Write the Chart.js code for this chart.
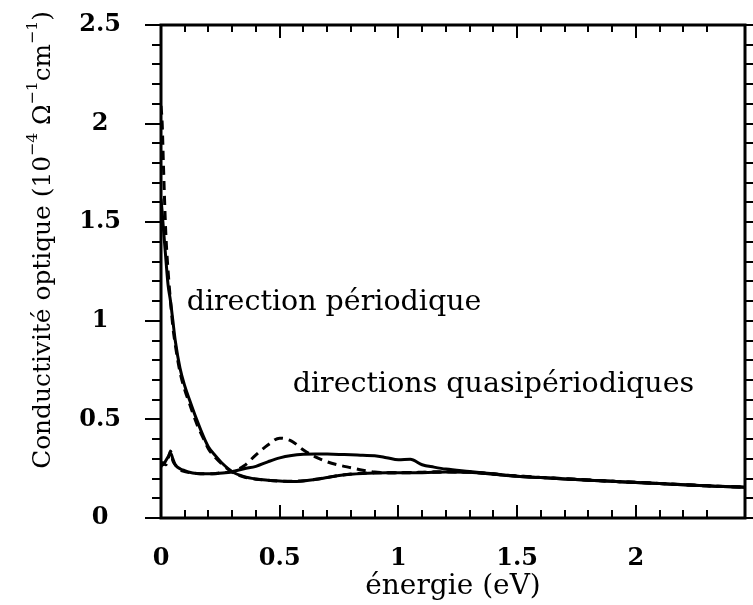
<!DOCTYPE html>
<html><head><meta charset="utf-8">
<script src="https://cdn.jsdelivr.net/npm/chart.js@4/dist/chart.umd.min.js"></script>
<style>html,body{margin:0;padding:0;background:#fff;}canvas{display:block;}</style>
</head><body>
<canvas id="c" width="753" height="605"></canvas>
<script>
const energy = [0, 0.005, 0.01, 0.02, 0.03, 0.04, 0.05, 0.06, 0.08, 0.1, 0.12, 0.15, 0.18, 0.2, 0.23, 0.26, 0.3, 0.35, 0.4, 0.45, 0.5, 0.55, 0.6, 0.65, 0.7, 0.75, 0.8, 0.85, 0.9, 0.95, 1.0, 1.05, 1.1, 1.15, 1.2, 1.3, 1.4, 1.5, 1.6, 1.7, 1.8, 1.9, 2.0, 2.1, 2.2, 2.3, 2.4, 2.46];
const periodicSolid = [1.62, 1.55, 1.47, 1.32, 1.18, 1.10, 1.00, 0.90, 0.76, 0.67, 0.60, 0.50, 0.41, 0.36, 0.315, 0.275, 0.235, 0.21, 0.198, 0.192, 0.188, 0.185, 0.188, 0.195, 0.205, 0.215, 0.222, 0.226, 0.228, 0.229, 0.229, 0.229, 0.23, 0.232, 0.233, 0.232, 0.222, 0.212, 0.205, 0.198, 0.192, 0.186, 0.18, 0.175, 0.168, 0.163, 0.158, 0.156];
const periodicDashed = [2.09, 2.0, 1.80, 1.45, 1.25, 1.10, 0.97, 0.88, 0.74, 0.65, 0.58, 0.48, 0.40, 0.35, 0.305, 0.27, 0.232, 0.208, 0.197, 0.191, 0.187, 0.186, 0.189, 0.196, 0.206, 0.216, 0.223, 0.227, 0.229, 0.23, 0.23, 0.231, 0.232, 0.233, 0.234, 0.232, 0.223, 0.213, 0.206, 0.199, 0.193, 0.186, 0.181, 0.175, 0.169, 0.163, 0.159, 0.157];
const quasiSolid = [0.27, 0.28, 0.27, 0.29, 0.31, 0.33, 0.30, 0.27, 0.25, 0.24, 0.232, 0.226, 0.224, 0.224, 0.225, 0.228, 0.235, 0.25, 0.262, 0.285, 0.305, 0.317, 0.323, 0.325, 0.324, 0.322, 0.321, 0.318, 0.316, 0.306, 0.295, 0.298, 0.27, 0.258, 0.248, 0.236, 0.224, 0.212, 0.205, 0.198, 0.192, 0.186, 0.18, 0.175, 0.168, 0.163, 0.158, 0.156];
const quasiDashed = [0.26, 0.27, 0.28, 0.27, 0.30, 0.34, 0.29, 0.27, 0.245, 0.235, 0.23, 0.226, 0.224, 0.224, 0.226, 0.23, 0.235, 0.265, 0.32, 0.37, 0.405, 0.39, 0.345, 0.31, 0.285, 0.268, 0.255, 0.242, 0.233, 0.23, 0.229, 0.23, 0.231, 0.233, 0.234, 0.233, 0.223, 0.213, 0.206, 0.199, 0.193, 0.186, 0.181, 0.175, 0.169, 0.163, 0.159, 0.157];
const xTickLabels = ['0', '0.5', '1', '1.5', '2'];
const yTickLabels = ['0', '0.5', '1', '1.5', '2', '2.5'];
const xTitle = 'énergie (eV)';
const yTitleParts = [
  {t: 'Conductivité optique (10', sup: false},
  {t: '−4', sup: true},
  {t: ' Ω', sup: false},
  {t: '−1', sup: true},
  {t: 'cm', sup: false},
  {t: '−1', sup: true},
  {t: ')', sup: false}
];
const curveLabels = [
  {text: 'direction périodique', x: 0.108, y: 1.055},
  {text: 'directions quasipériodiques', x: 0.555, y: 0.639}
];

const SERIF = '"DejaVu Serif", serif';
const pts = arr => energy.map((e, i) => ({x: e, y: arr[i]}));
const fmt = v => String(Math.round(v * 10) / 10);

function seg(ctx, x1, y1, x2, y2) { ctx.beginPath(); ctx.moveTo(x1, y1); ctx.lineTo(x2, y2); ctx.stroke(); }

const framePlugin = {
  id: 'frameTicks',
  afterDatasetsDraw(chart) {
    const {ctx, chartArea: a, scales: {x, y}} = chart;
    ctx.save();
    ctx.strokeStyle = '#000';
    ctx.lineWidth = 3;
    ctx.strokeRect(a.left, a.top, a.right - a.left, a.bottom - a.top);
    ctx.lineWidth = 2;
    x.ticks.forEach((t, i) => {
      const px = Math.round(x.getPixelForTick(i));
      const major = t.label !== '';
      seg(ctx, px, a.bottom, px, a.bottom - (major ? 13 : 8));
      seg(ctx, px, a.top, px, a.top + (major ? 13 : 7));
    });
    y.ticks.forEach((t, i) => {
      const py = Math.round(y.getPixelForTick(i));
      const major = t.label !== '';
      seg(ctx, a.left, py, a.left - (major ? 16 : 9), py);
      seg(ctx, a.right, py, a.right + 8, py);
    });
    // curve labels
    ctx.fillStyle = '#000';
    ctx.font = '28.5px ' + SERIF;
    ctx.textAlign = 'left';
    ctx.textBaseline = 'alphabetic';
    curveLabels.forEach(l => ctx.fillText(l.text, x.getPixelForValue(l.x), y.getPixelForValue(l.y)));
    // y title with superscripts, fitted to the reference length
    const measure = (m, s) => {
      let w = 0;
      yTitleParts.forEach(p => { ctx.font = (p.sup ? s : m) + 'px ' + SERIF; w += ctx.measureText(p.t).width; });
      return w;
    };
    const k = 458 / measure(27, 17);
    const mSize = 27 * k, sSize = 17 * k;
    const total = measure(mSize, sSize);
    ctx.translate(50, 240 + total / 2);
    ctx.rotate(-Math.PI / 2);
    let cx = 0;
    yTitleParts.forEach(p => {
      ctx.font = (p.sup ? sSize : mSize) + 'px ' + SERIF;
      ctx.fillText(p.t, cx, p.sup ? -13 : 0);
      cx += ctx.measureText(p.t).width;
    });
    ctx.restore();
  }
};

const lineDs = (data, dashed) => ({
  data: pts(data),
  borderColor: '#000',
  borderWidth: 3,
  borderDash: dashed ? [9, 6] : [],
  pointRadius: 0,
  fill: false,
  cubicInterpolationMode: 'monotone'
});

new Chart(document.getElementById('c'), {
  type: 'line',
  data: {
    datasets: [
      lineDs(periodicSolid, false),
      lineDs(periodicDashed, true),
      lineDs(quasiSolid, false),
      lineDs(quasiDashed, true)
    ]
  },
  options: {
    responsive: false,
    animation: false,
    devicePixelRatio: 1,
    layout: {padding: {top: 25, right: 8, left: 0, bottom: 0}},
    plugins: {legend: {display: false}, tooltip: {enabled: false}},
    scales: {
      x: {
        type: 'linear', min: 0, max: 2.46,
        grid: {display: false, drawTicks: false},
        border: {display: false},
        ticks: {
          stepSize: 0.1, autoSkip: false, maxRotation: 0, padding: 26,
          color: '#000', font: {family: SERIF, size: 24, weight: 'bold'},
          callback: v => xTickLabels.includes(fmt(v)) ? fmt(v) : ''
        },
        title: {display: true, text: xTitle, color: '#000', font: {family: SERIF, size: 28}, padding: {top: 0, bottom: 1}},
        afterFit(s) { s.height = 87; s.paddingLeft = 0; s.paddingRight = 0; }
      },
      y: {
        type: 'linear', min: 0, max: 2.5,
        grid: {display: false, drawTicks: false},
        border: {display: false},
        ticks: {
          stepSize: 0.1, autoSkip: false, padding: 40, crossAlign: 'center',
          color: '#000', font: {family: SERIF, size: 24, weight: 'bold'},
          callback: v => yTickLabels.includes(fmt(v)) ? fmt(v) : ''
        },
        afterFit(s) { s.width = 161; s.paddingTop = 0; s.paddingBottom = 0; }
      }
    }
  },
  plugins: [framePlugin]
});
</script>
</body></html>
